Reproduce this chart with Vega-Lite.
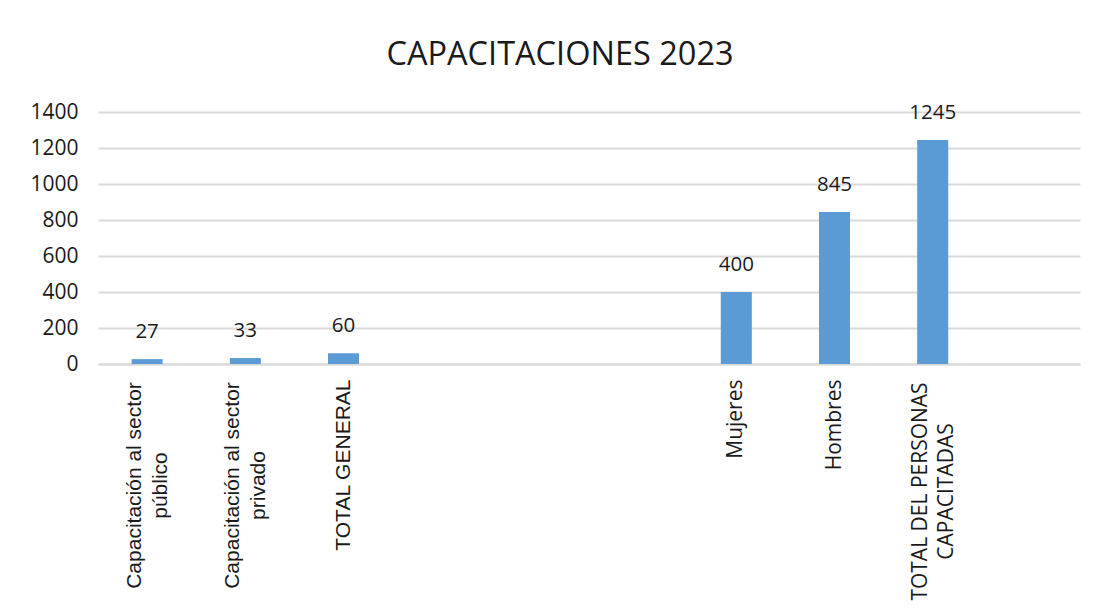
{
  "$schema": "https://vega.github.io/schema/vega-lite/v6.json",
  "width": 982,
  "height": 252,
  "autosize": {"type": "none"},
  "padding": {"left": 98, "top": 112, "right": 22, "bottom": 244},
  "background": "white",
  "title": {
    "text": "CAPACITACIONES 2023",
    "font": "Open Sans",
    "fontSize": 32.5,
    "fontWeight": "normal",
    "color": "#1a1a1a",
    "anchor": "middle",
    "frame": "group",
    "offset": 30,
    "dx": -29
  },
  "data": {
    "values": [
      {"categoria": "Capacitación al sector público", "valor": 27},
      {"categoria": "Capacitación al sector privado", "valor": 33},
      {"categoria": "TOTAL GENERAL", "valor": 60},
      {"categoria": "Mujeres", "valor": 400},
      {"categoria": "Hombres", "valor": 845},
      {"categoria": "TOTAL DEL PERSONAS CAPACITADAS", "valor": 1245}
    ]
  },
  "encoding": {
    "x": {
      "field": "categoria",
      "type": "nominal",
      "sort": null,
      "scale": {
        "domain": ["Capacitación al sector público", "Capacitación al sector privado", "TOTAL GENERAL", "_a", "_b", "_c", "Mujeres", "Hombres", "TOTAL DEL PERSONAS CAPACITADAS", "_d"],
        "paddingInner": 0.684,
        "paddingOuter": 0.342
      },
      "axis": {
        "title": null,
        "ticks": false,
        "labelAngle": 270,
        "labelBaseline": "middle",
        "labelAlign": {"condition": {"test": "datum.value == 'Capacitación al sector público' || datum.value == 'Capacitación al sector privado' || datum.value == 'TOTAL DEL PERSONAS CAPACITADAS'", "value": "center"}, "value": "right"},
        "labelPadding": {"condition": [
          {"test": "datum.value == 'TOTAL DEL PERSONAS CAPACITADAS'", "value": 127},
          {"test": "datum.value == 'Capacitación al sector público' || datum.value == 'Capacitación al sector privado'", "value": 121}
        ], "value": 15},
        "labelOffset": {"condition": {"test": "datum.value == 'Capacitación al sector público' || datum.value == 'Capacitación al sector privado' || datum.value == 'TOTAL DEL PERSONAS CAPACITADAS'", "value": -12}, "value": 0},
        "labelFont": {"condition": {"test": "datum.value == 'Mujeres' || datum.value == 'Hombres' || datum.value == 'TOTAL DEL PERSONAS CAPACITADAS'", "value": "Open Sans"}, "value": "Liberation Sans"},
        "labelFontSize": 21,
        "labelColor": "#1a1a1a",
        "labelLineHeight": 26,
        "labelLimit": 400,
        "labelOverlap": false,
        "labelExpr": "indexof(datum.label, '_') == 0 ? '' : datum.label == 'Capacitación al sector público' ? ['Capacitación al sector', 'público'] : datum.label == 'Capacitación al sector privado' ? ['Capacitación al sector', 'privado'] : datum.label == 'TOTAL DEL PERSONAS CAPACITADAS' ? ['TOTAL DEL PERSONAS', 'CAPACITADAS'] : datum.label",
        "domainColor": "#d9d9d9",
        "domainWidth": 2,
        "grid": false
      }
    },
    "y": {
      "field": "valor",
      "type": "quantitative",
      "scale": {"domain": [0, 1400], "nice": false},
      "axis": {
        "title": null,
        "values": [0, 200, 400, 600, 800, 1000, 1200, 1400],
        "format": "d",
        "ticks": false,
        "domain": false,
        "labelFont": "Open Sans",
        "labelFontSize": 21,
        "labelColor": "#1a1a1a",
        "labelPadding": 20,
        "gridColor": "#d9d9d9",
        "gridWidth": 2
      }
    }
  },
  "layer": [
    {"mark": {"type": "bar", "color": "#5b9bd5"}},
    {
      "mark": {"type": "text", "font": "Open Sans", "fontSize": 20.5, "color": "#1a1a1a", "baseline": "middle", "dy": -27},
      "encoding": {"text": {"field": "valor", "type": "quantitative"}}
    }
  ],
  "config": {"view": {"stroke": null}}
}
